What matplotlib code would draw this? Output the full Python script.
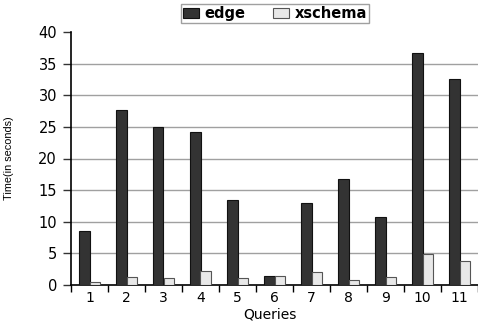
import matplotlib
matplotlib.use("Agg")
import matplotlib.pyplot as plt
import numpy as np

# Query timings (seconds)
queries = ["1", "2", "3", "4", "5", "6", "7", "8", "9", "10", "11"]
edge = [8.5, 27.7, 25.0, 24.2, 13.4, 1.5, 13.0, 16.8, 10.8, 36.7, 32.5]
xschema = [0.45, 1.3, 1.1, 2.2, 1.1, 1.4, 2.05, 0.8, 1.25, 4.9, 3.8]
y_ticks = [0, 5, 10, 15, 20, 25, 30, 35, 40]

W, H = 478, 324
fig = plt.figure(figsize=(W / 100, H / 100), dpi=100)
ax = fig.add_axes([71 / W, 1 - 285 / H, 1 - 71 / W, (285 - 32) / H])

x = np.arange(1, len(queries) + 1)
bw = 0.29
ax.bar(x - bw / 2, edge, bw, color="#333333", edgecolor="#111111",
       linewidth=0.8, label="edge", zorder=3)
ax.bar(x + bw / 2, xschema, bw, color="#e8e8e8", edgecolor="#555555",
       linewidth=0.8, label="xschema", zorder=3)

ax.set_ylim(0, 40)
ax.set_xlim(0.5, 0.5 + (W - 71) / 37.15)

# horizontal grid (not at the top value)
for v in y_ticks[1:-1]:
    ax.axhline(v, color="#a0a0a0", linewidth=1.0, zorder=1)

for s in ("top", "right"):
    ax.spines[s].set_visible(False)
for s in ("left", "bottom"):
    ax.spines[s].set_color("black")
    ax.spines[s].set_linewidth(1.2)

ax.set_yticks(y_ticks)
ax.set_yticklabels([str(v) for v in y_ticks], family="DejaVu Sans", size=10.5)
ax.tick_params(axis="y", direction="out", length=6, width=1, color="#333333", pad=4)

ax.set_xticks(x)
ax.set_xticklabels(queries, family="DejaVu Sans", size=10)
ax.tick_params(axis="x", which="major", length=0, pad=4)
ax.set_xticks(np.arange(0.5, len(queries) + 1, 1.0), minor=True)
ax.tick_params(axis="x", which="minor", direction="out", length=5, width=1, color="black")

ax.set_xlabel("Queries", family="DejaVu Sans", size=10)
ax.xaxis.set_label_coords(0.49, -(314 - 285) / (285 - 32), transform=ax.transAxes)
ax.xaxis.label.set_va("center")
ax.set_ylabel("Time(in seconds)", family="Liberation Sans", size=7.8)
ax.yaxis.set_label_coords((14 - 71) / (W - 71), 0.5)

leg = fig.legend(loc="upper center", bbox_to_anchor=(275 / W, 1 - 4 / H), ncol=2,
                 frameon=True, fancybox=False, shadow=False,
                 prop=dict(family="DejaVu Sans", weight="bold", size=10.5),
                 handlelength=1.1, handleheight=0.7, handletextpad=0.4,
                 columnspacing=1.9, borderpad=0.12, borderaxespad=0)
leg.get_frame().set_edgecolor("#888888")
leg.get_frame().set_linewidth(1.0)

fig.savefig("out.png", dpi=100)
